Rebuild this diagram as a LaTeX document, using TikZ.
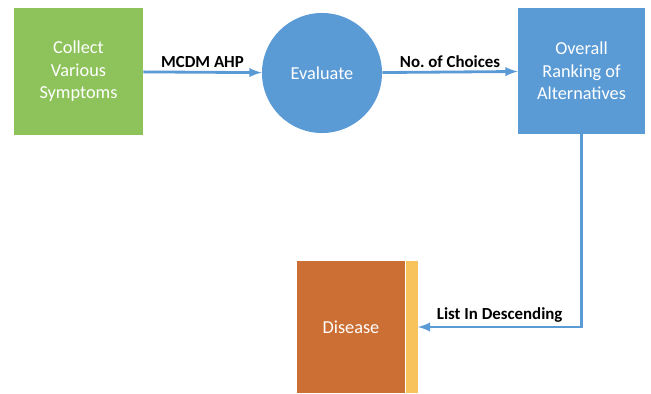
\documentclass[tikz,border=0pt]{standalone}
\usepackage{fontspec}
\setmainfont{Carlito}
\usetikzlibrary{shapes,arrows,positioning}
\frenchspacing

\definecolor{boxgreen}{HTML}{8EC35C}
\definecolor{boxblue}{HTML}{5B9BD5}
\definecolor{boxorange}{HTML}{CB6F34}
\definecolor{boxgold}{HTML}{F9C35B}

\tikzset{
    stepnode/.style={draw=none, align=center, text=white,
        font=\fontsize{13}{16}\selectfont},
    flow/.style={draw=boxblue, line width=2pt, -latex},
    flowlabel/.style={font=\fontsize{12}{14}\selectfont\bfseries, text=black, inner sep=2pt}
}

\begin{document}
\begin{tikzpicture}[x=0.025cm, y=-0.025cm]
\useasboundingbox (0,0) rectangle (651,394);
\node[stepnode, fill=boxgreen, minimum width=3.225cm, minimum height=3.175cm] (collect) at (78.5,71.5) {Collect\\Various\\Symptoms};
\node[stepnode, circle, fill=boxblue, minimum size=3cm] (evaluate) at (322,73) {Evaluate};
\node[stepnode, fill=boxblue, minimum width=3.175cm, minimum height=3.15cm] (ranking) at (581.5,71) {Overall\\Ranking of\\Alternatives};
\node[stepnode, fill=boxorange, minimum width=2.7cm, minimum height=3.3cm] (disease) at (351,327) {Disease};
\node[fill=boxgold, inner sep=0pt, minimum width=0.3cm, minimum height=3.3cm, right=0pt of disease] (diseaseside) {};
% connectors
\draw[flow] (collect) -- node[flowlabel, above] {MCDM AHP} (evaluate);
\draw[flow] (evaluate) -- node[flowlabel, above] {No. of Choices} (ranking);
\draw[flow] (ranking.south) |- node[flowlabel, above, pos=0.75] {List In Descending} (diseaseside.east);
\end{tikzpicture}
\end{document}
